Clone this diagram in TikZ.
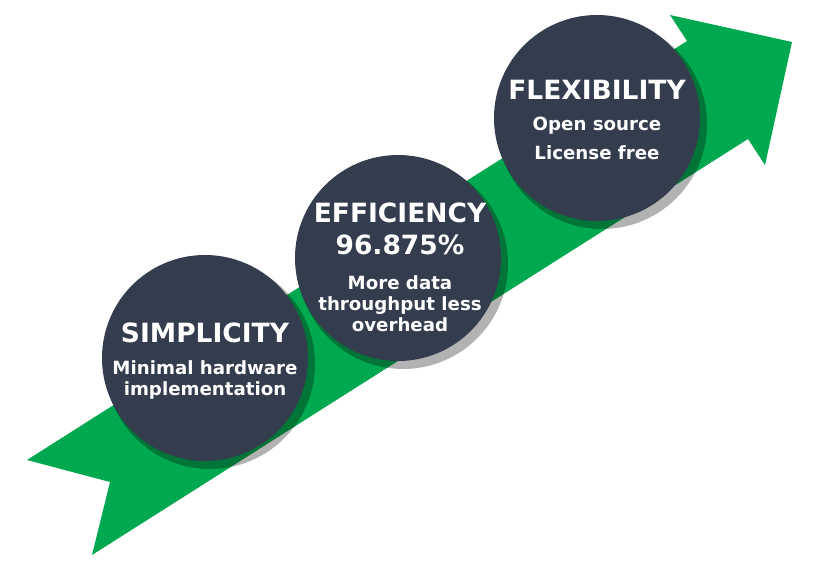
\documentclass[tikz,border=0pt]{standalone}
\usepackage{fontspec}
\setmainfont{DejaVu Sans}
\begin{document}
\begin{tikzpicture}[x=1pt,y=-1pt,
  disc/.style={circle,fill=slate,minimum size=206pt,inner sep=0pt},
  shade/.style={circle,fill=black,opacity=0.3,minimum size=210pt,inner sep=0pt},
  ttl/.style={text=white,font=\bfseries\fontsize{26.5}{30}\selectfont,inner sep=0pt,text height=0.73em,text depth=0.2em,yshift=-7pt},
  bdy/.style={text=white,font=\bfseries\fontsize{18.2}{21}\selectfont,inner sep=0pt,text height=0.73em,text depth=0.2em,yshift=-5pt}]
\definecolor{slate}{HTML}{333D4E}
\definecolor{arrowgreen}{HTML}{00A94F}
\useasboundingbox (0,0) rectangle (825,570);
\fill[arrowgreen] (27,460) -- (687,41) -- (670,15) -- (792,42) -- (765,165) -- (748,139) -- (92,555) -- (110,482) -- cycle;
\node[shade] at (210,364) {};
\node[shade] at (403,264) {};
\node[shade] at (602,124) {};
\node[disc] (s) at (205,358) {};
\node[disc] (e) at (398,258) {};
\node[disc] (f) at (597,118) {};
\node[ttl] (s1) at (205,333) {SIMPLICITY};
\node[bdy] (s2) at (205,367) {Minimal hardware};
\node[bdy] (s3) at (205,388) {implementation};
\node[ttl] (e1) at (400,213) {EFFICIENCY};
\node[ttl] (e2) at (400,245) {96.875\%};
\node[bdy] (e3) at (400,282) {More data};
\node[bdy] (e4) at (400,303) {throughput less};
\node[bdy] (e5) at (400,324) {overhead};
\node[ttl] (f1) at (597,90) {FLEXIBILITY};
\node[bdy] (f2) at (597,123) {Open source};
\node[bdy] (f3) at (597,152) {License free};
\end{tikzpicture}
\end{document}
